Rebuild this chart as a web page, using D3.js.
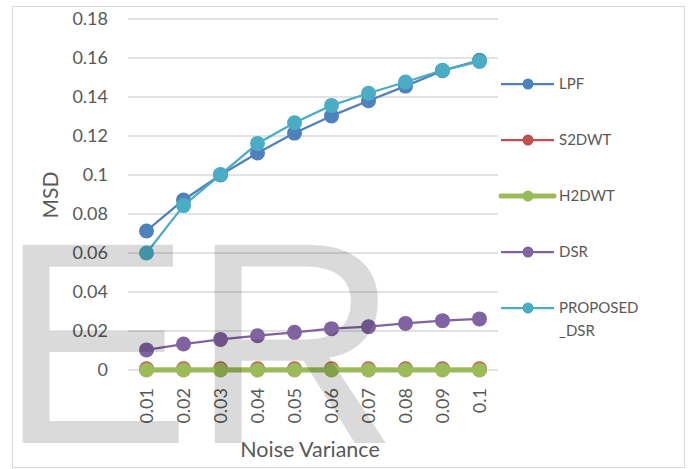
<!DOCTYPE html>
<html>
<head>
<meta charset="utf-8">
<script src="https://cdn.jsdelivr.net/npm/d3@7"></script>
<style>
  html, body { margin: 0; padding: 0; background: #fff; }
  svg { display: block; font-family: Lato, "Open Sans", sans-serif; }
</style>
</head>
<body>
<svg id="chart" width="689" height="469"></svg>
<script>
// Noise variance categories on the x axis
const categories = ["0.01", "0.02", "0.03", "0.04", "0.05", "0.06", "0.07", "0.08", "0.09", "0.1"];
const yTicks = [0, 0.02, 0.04, 0.06, 0.08, 0.1, 0.12, 0.14, 0.16, 0.18];
const yTickLabels = ["0", "0.02", "0.04", "0.06", "0.08", "0.1", "0.12", "0.14", "0.16", "0.18"];

// MSD per method
const lpf      = [0.0713, 0.0872, 0.1000, 0.1113, 0.1215, 0.1303, 0.1381, 0.1456, 0.1535, 0.1588];
const s2dwt    = [0.0006, 0.0006, 0.0006, 0.0006, 0.0006, 0.0006, 0.0006, 0.0006, 0.0006, 0.0006];
const h2dwt    = [0, 0, 0, 0, 0, 0, 0, 0, 0, 0];
const dsr      = [0.0103, 0.0133, 0.0157, 0.0176, 0.0193, 0.0212, 0.0222, 0.0239, 0.0253, 0.0262];
const proposed = [0.0600, 0.0843, 0.1002, 0.1162, 0.1268, 0.1357, 0.1419, 0.1477, 0.1537, 0.1582];

const seriesNames = ["LPF", "S2DWT", "H2DWT", "DSR", "PROPOSED_DSR"];
const seriesColors = ["#4f81bd", "#c0504d", "#9bbb59", "#8064a2", "#4bacc6"];
const seriesWidths = [2.25, 2.25, 5, 2.25, 2.25];
const seriesValues = [lpf, s2dwt, h2dwt, dsr, proposed];

const svg = d3.select("#chart");

// chart area border
svg.append("rect")
  .attr("x", 12.5).attr("y", 6.5).attr("width", 672).attr("height", 461)
  .attr("fill", "#fff").attr("stroke", "#d9d9d9").attr("stroke-width", 1);

const x = d3.scalePoint().domain(categories).range([128, 498]).padding(0.5);
const y = d3.scaleLinear().domain([0, 0.18]).range([370, 19]);

// horizontal gridlines
svg.append("g").selectAll("line").data(yTicks).join("line")
  .attr("x1", 128).attr("x2", 498)
  .attr("y1", d => y(d)).attr("y2", d => y(d))
  .attr("stroke", "#d9d9d9").attr("stroke-width", 1.5);

// y axis labels
const yAxis = d3.axisLeft(y).tickValues(yTicks)
  .tickFormat((d, i) => yTickLabels[i]).tickSize(0).tickPadding(0);
svg.append("g").attr("transform", "translate(108,0)").call(yAxis)
  .call(g => g.select(".domain").remove())
  .call(g => g.selectAll("text")
    .attr("fill", "#595959").attr("font-size", 18)
    .attr("font-family", "Lato, sans-serif"));

// x axis labels, rotated
const xAxis = d3.axisBottom(x).tickSize(0).tickPadding(0);
svg.append("g").attr("transform", "translate(0,388)").call(xAxis)
  .call(g => g.select(".domain").remove())
  .call(g => g.selectAll("text")
    .attr("fill", "#595959").attr("font-size", 18)
    .attr("font-family", "Lato, sans-serif")
    .attr("text-anchor", "end")
    .attr("transform", "rotate(-90)")
    .attr("x", 0).attr("y", 0).attr("dy", "0.36em"));

// axis titles
svg.append("text").attr("x", 310).attr("y", 457)
  .attr("text-anchor", "middle").attr("fill", "#595959").attr("font-size", 21.5)
  .text("Noise Variance");
svg.append("text").attr("transform", "translate(58,195) rotate(-90)")
  .attr("text-anchor", "middle").attr("fill", "#595959").attr("font-size", 21)
  .text("MSD");

// series lines and markers
const line = d3.line().x((d, i) => x(categories[i])).y(d => y(d));
seriesValues.forEach((vals, k) => {
  const g = svg.append("g");
  g.append("path").datum(vals).attr("d", line)
    .attr("fill", "none").attr("stroke", seriesColors[k])
    .attr("stroke-width", seriesWidths[k]).attr("stroke-linejoin", "round");
  g.selectAll("circle").data(vals).join("circle")
    .attr("cx", (d, i) => x(categories[i])).attr("cy", d => y(d))
    .attr("r", 7.5).attr("fill", seriesColors[k]);
});

// legend
const legendY = [84, 140, 196, 252, 308];
const legend = svg.append("g");
seriesNames.forEach((name, k) => {
  const ly = legendY[k];
  legend.append("line").attr("x1", 501).attr("x2", 554).attr("y1", ly).attr("y2", ly)
    .attr("stroke", seriesColors[k]).attr("stroke-width", seriesWidths[k])
    .attr("stroke-linecap", k === 2 ? "round" : "butt");
  legend.append("circle").attr("cx", 528).attr("cy", ly).attr("r", 5.5).attr("fill", seriesColors[k]);
  const t = legend.append("text").attr("x", 559).attr("y", ly).attr("dy", "0.36em")
    .attr("fill", "#595959").attr("font-size", 15);
  if (name === "PROPOSED_DSR") {
    t.append("tspan").attr("x", 559).text("PROPOSED");
    t.append("tspan").attr("x", 559).attr("dy", 23).text("_DSR");
  } else {
    t.text(name);
  }
});

// translucent watermark lettering over the plot
svg.append("text").attr("x", -1).attr("y", 443)
  .attr("font-family", "'Liberation Sans', Arial, sans-serif")
  .attr("font-size", 288).attr("fill", "#000").attr("fill-opacity", 0.145)
  .text("ER");
</script>
</body>
</html>
